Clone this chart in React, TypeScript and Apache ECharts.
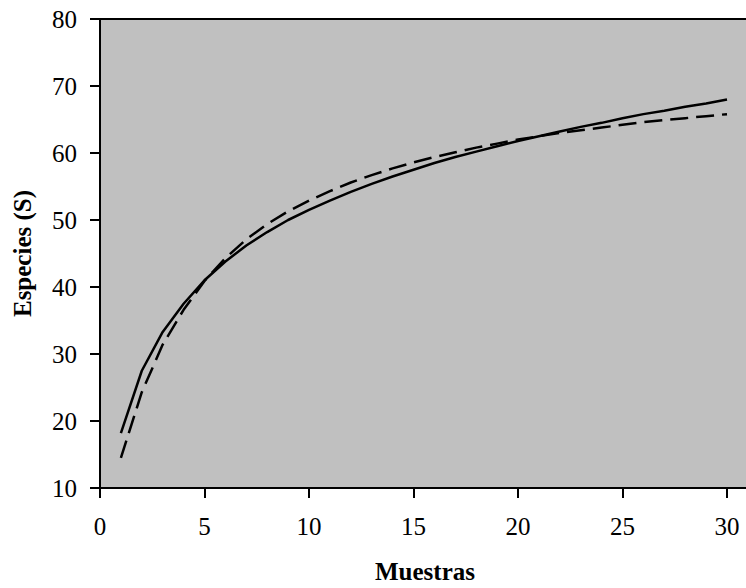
import React, { useEffect, useRef } from "react";
import * as echarts from "echarts";

const muestras = [1, 2, 3, 4, 5, 6, 7, 8, 9, 10, 11, 12, 13, 14, 15, 16, 17, 18, 19, 20, 21, 22, 23, 24, 25, 26, 27, 28, 29, 30];
const observadas = [18.2, 27.5, 33.3, 37.5, 41.0, 43.8, 46.2, 48.2, 50.0, 51.5, 52.9, 54.2, 55.4, 56.5, 57.5, 58.5, 59.4, 60.2, 61.0, 61.8, 62.5, 63.2, 63.9, 64.5, 65.2, 65.8, 66.3, 66.9, 67.4, 68.0];
const estimadas = [14.5, 24.3, 31.4, 36.6, 40.9, 44.3, 47.1, 49.4, 51.3, 52.9, 54.3, 55.6, 56.7, 57.7, 58.6, 59.4, 60.1, 60.8, 61.4, 62.0, 62.5, 63.0, 63.4, 63.8, 64.2, 64.6, 64.9, 65.2, 65.5, 65.8];

const xTitle = "Muestras";
const yTitle = "Especies (S)";

export default function App() {
  const ref = useRef<HTMLDivElement>(null);
  useEffect(() => {
    if (!ref.current) return;
    const chart = echarts.init(ref.current, null, { renderer: "svg" });
    const font = "Liberation Serif";
    chart.setOption({
      animation: false,
      backgroundColor: "#ffffff",
      grid: {
        left: 100,
        top: 19,
        width: 650,
        height: 469,
        containLabel: false,
        outerBoundsMode: "none",
        show: true,
        backgroundColor: "#c0c0c0",
        borderColor: "#000",
        borderWidth: 2,
      },
      xAxis: {
        type: "value",
        min: 0,
        max: 31.1,
        interval: 5,
        name: xTitle,
        nameLocation: "middle",
        nameGap: 71,
        nameTextStyle: { fontFamily: font, fontWeight: "bold", fontSize: 25, color: "#000" },
        axisLine: { show: true, onZero: false, lineStyle: { color: "#000", width: 2 } },
        axisTick: { show: true, inside: false, length: 10, lineStyle: { color: "#000", width: 2 } },
        axisLabel: { fontFamily: font, fontSize: 25, color: "#000", margin: 26, showMaxLabel: false },
        splitLine: { show: false },
      },
      yAxis: {
        type: "value",
        min: 10,
        max: 80,
        interval: 10,
        name: yTitle,
        nameLocation: "middle",
        nameGap: 65,
        nameTextStyle: { fontFamily: font, fontWeight: "bold", fontSize: 25, color: "#000" },
        axisLine: { show: true, onZero: false, lineStyle: { color: "#000", width: 2 } },
        axisTick: { show: true, inside: false, length: 10, lineStyle: { color: "#000", width: 2 } },
        axisLabel: { fontFamily: font, fontSize: 25, color: "#000", margin: 23 },
        splitLine: { show: false },
      },
      series: [
        {
          name: "Observadas",
          type: "line",
          showSymbol: false,
          data: muestras.map((m, i) => [m, observadas[i]]),
          lineStyle: { color: "#000", width: 2.5, type: "solid" },
          itemStyle: { color: "#000" },
        },
        {
          name: "Estimadas",
          type: "line",
          showSymbol: false,
          data: muestras.map((m, i) => [m, estimadas[i]]),
          lineStyle: { color: "#000", width: 2.5, type: [18, 8] },
          itemStyle: { color: "#000" },
        },
      ],
    });
    return () => chart.dispose();
  }, []);
  return <div ref={ref} style={{ position: "absolute", left: 0, top: 0, width: 746, height: 588 }} />;
}
